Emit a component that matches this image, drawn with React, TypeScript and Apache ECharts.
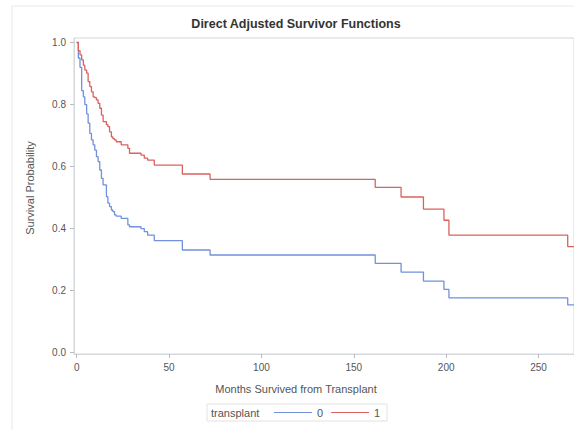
import React, { useEffect, useRef } from "react";
import * as echarts from "echarts";

// Event times (months) shared by both adjusted curves
const times = [
  0, 0.9, 1.8, 2.7, 3.6, 4.4, 5.4, 6.2, 7.1, 8.0, 8.9, 9.8, 10.7, 11.6, 12.5,
  13.4, 14.3, 16.1, 16.9, 17.8, 18.8, 19.6, 20.5, 21.4, 24.1, 27.7, 28.6, 34.8,
  36.6, 38.4, 42, 57.2, 72.2, 161.6, 175.6, 187.7, 198.8, 201.5, 265.8, 269.2,
];

// transplant = 0 (blue)
const survival0 = [
  1.0, 0.95, 0.92, 0.845, 0.825, 0.8, 0.77, 0.74, 0.707, 0.686, 0.67, 0.653,
  0.632, 0.616, 0.589, 0.562, 0.541, 0.503, 0.482, 0.471, 0.46, 0.455, 0.444,
  0.44, 0.433, 0.412, 0.406, 0.4, 0.39, 0.379, 0.361, 0.331, 0.315, 0.288,
  0.26, 0.231, 0.204, 0.177, 0.154, 0.154,
];

// transplant = 1 (red)
const survival1 = [
  1.0, 0.974, 0.96, 0.944, 0.927, 0.911, 0.901, 0.874, 0.858, 0.841, 0.825,
  0.822, 0.815, 0.804, 0.788, 0.766, 0.745, 0.735, 0.729, 0.712, 0.696, 0.69,
  0.686, 0.68, 0.67, 0.659, 0.643, 0.637, 0.627, 0.621, 0.605, 0.576, 0.559,
  0.533, 0.502, 0.463, 0.427, 0.379, 0.342, 0.342,
];

const groups = ["0", "1"];
const xTicks = [0, 50, 100, 150, 200, 250];
const yTicks = [0, 0.2, 0.4, 0.6, 0.8, 1.0];

const FONT = "'Liberation Sans', Arial, sans-serif";
const AXIS_COLOR = "#d3d9dc";
const TEXT_COLOR = "#555";
const BLUE = "#7191dc";
const RED = "#d9625f";

export default function App() {
  const ref = useRef<HTMLDivElement>(null);

  useEffect(() => {
    if (!ref.current) return;
    const chart = echarts.init(ref.current, null, { renderer: "svg" });
    const mk = (vals: number[]) => times.map((t, i) => [t, vals[i]]);
    chart.setOption({
      animation: false,
      backgroundColor: "#fff",
      textStyle: { fontFamily: FONT },
      grid: {
        left: 74,
        top: 38,
        right: -5,
        bottom: 76,
        show: true,
        borderColor: AXIS_COLOR,
        borderWidth: 1,
        containLabel: false,
      },
      xAxis: {
        type: "value",
        min: -1.45,
        max: 269.2,
        axisLine: { show: true, onZero: false, lineStyle: { color: AXIS_COLOR } },
        axisTick: {
          show: true,
          length: 4,
          customValues: xTicks,
          lineStyle: { color: "#bbb" },
        },
        axisLabel: {
          customValues: xTicks,
          color: TEXT_COLOR,
          fontSize: 10,
          margin: 8,
          fontFamily: FONT,
        },
        splitLine: { show: false },
      },
      yAxis: {
        type: "value",
        min: -0.0042,
        max: 1.0145,
        axisLine: { show: true, onZero: false, lineStyle: { color: AXIS_COLOR } },
        axisTick: {
          show: true,
          length: 4,
          customValues: yTicks,
          lineStyle: { color: "#bbb" },
        },
        axisLabel: {
          customValues: yTicks,
          color: TEXT_COLOR,
          fontSize: 10,
          margin: 8,
          fontFamily: FONT,
          formatter: (v: number) => v.toFixed(1),
        },
        splitLine: { show: false },
      },
      legend: {
        data: groups,
        left: 274,
        top: 407,
        icon: "rect",
        itemWidth: 38,
        itemHeight: 1,
        itemGap: 8,
        padding: 0,
        textStyle: { color: TEXT_COLOR, fontSize: 11, fontFamily: FONT },
      },
      series: [
        {
          name: groups[0],
          type: "line",
          step: "end",
          data: mk(survival0),
          showSymbol: false,
          symbol: "none",
          lineStyle: { color: BLUE, width: 1.3 },
          itemStyle: { color: BLUE },
        },
        {
          name: groups[1],
          type: "line",
          step: "end",
          data: mk(survival1),
          showSymbol: false,
          symbol: "none",
          lineStyle: { color: RED, width: 1.3 },
          itemStyle: { color: RED },
        },
      ],
      graphic: [
        {
          type: "rect",
          shape: { x: 12, y: 6, width: 700, height: 600 },
          style: { fill: "none", stroke: "#e8e8e8", lineWidth: 1 },
          silent: true,
          z: -1,
        },
        {
          type: "text",
          x: 296,
          y: 24,
          style: {
            text: "Direct Adjusted Survivor Functions",
            fill: "#333",
            font: `bold 12.5px ${FONT}`,
            textAlign: "center",
            textVerticalAlign: "middle",
          },
        },
        {
          type: "text",
          x: 30,
          y: 188,
          rotation: Math.PI / 2,
          style: {
            text: "Survival Probability",
            fill: TEXT_COLOR,
            font: `11px ${FONT}`,
            textAlign: "center",
            textVerticalAlign: "middle",
          },
        },
        {
          type: "text",
          x: 296,
          y: 389,
          style: {
            text: "Months Survived from Transplant",
            fill: TEXT_COLOR,
            font: `11px ${FONT}`,
            textAlign: "center",
            textVerticalAlign: "middle",
          },
        },
        {
          type: "rect",
          shape: { x: 207, y: 404, width: 180, height: 17 },
          style: { fill: "none", stroke: "#e2e2e2", lineWidth: 1 },
          silent: true,
        },
        {
          type: "text",
          x: 211,
          y: 412.5,
          style: {
            text: "transplant",
            fill: TEXT_COLOR,
            font: `11px ${FONT}`,
            textAlign: "left",
            textVerticalAlign: "middle",
          },
        },
      ],
    });
    return () => chart.dispose();
  }, []);

  return (
    <div
      ref={ref}
      style={{ position: "fixed", left: 0, top: 0, width: 574, height: 430 }}
    />
  );
}
